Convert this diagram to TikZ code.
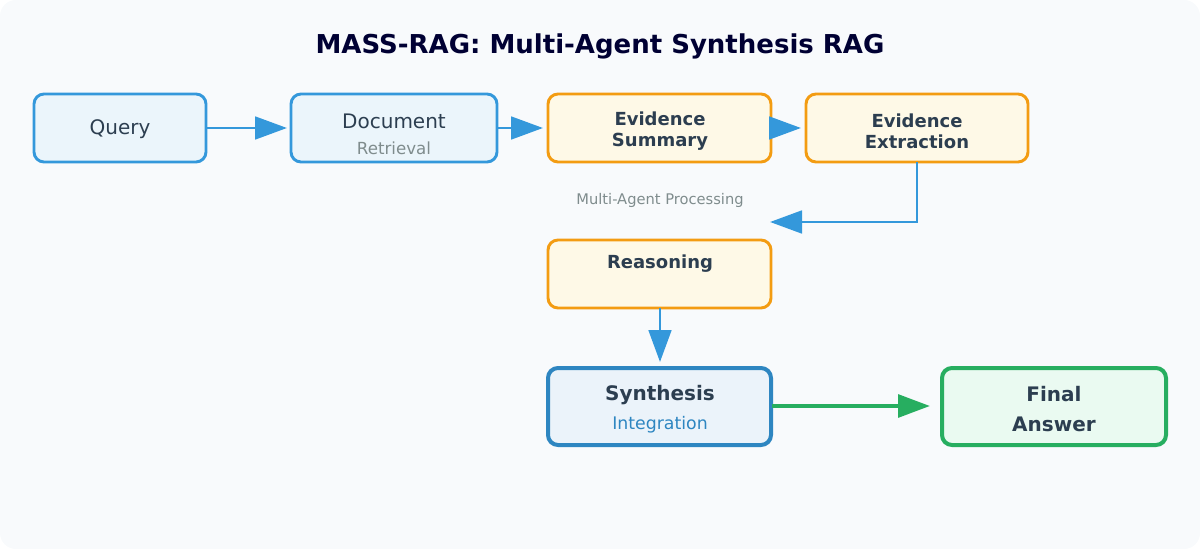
\documentclass[tikz,border=0pt]{standalone}
\usepackage{fontspec}
\setmainfont{DejaVu Sans}
\usetikzlibrary{arrows.meta}
\definecolor{bg}{HTML}{F8FAFC}
\definecolor{blueS}{HTML}{3498DB}
\definecolor{blueF}{HTML}{EBF5FB}
\definecolor{orS}{HTML}{F39C12}
\definecolor{orF}{HTML}{FEF9E7}
\definecolor{synS}{HTML}{2E86C1}
\definecolor{synF}{HTML}{EBF3FA}
\definecolor{grS}{HTML}{27AE60}
\definecolor{grF}{HTML}{EAFAF1}
\definecolor{txt}{HTML}{2C3E50}
\definecolor{gr}{HTML}{7F8C8D}
\begin{document}
\begin{tikzpicture}[x=0.75pt,y=-0.75pt,
 box/.style={draw,line width=2.2pt,rounded corners=7.5pt,text=txt},
 blue/.style={box,draw=blueS,fill=blueF},
 orange/.style={box,draw=orS,fill=orF},
 lbl/.style={text=txt,font=\fontsize{15}{18}\selectfont},
 blbl/.style={text=txt,font=\bfseries\fontsize{13.5}{16}\selectfont,align=center},
 arr/.style={draw=blueS,line width=2.2pt,-{Triangle[length=24pt,width=17pt]}},
]
\useasboundingbox (0,0) rectangle (1200,549);
\fill[bg,rounded corners=12pt] (0,0) rectangle (1200,549);
\node[text=black!80!blue,font=\bfseries\fontsize{19.5}{23}\selectfont] (title) at (600,46) {MASS-RAG: Multi-Agent Synthesis RAG};
\draw[blue] (34,94) rectangle (206,162); \node[lbl] (q) at (120,129) {Query};
\coordinate (qr) at (206,128);
\draw[blue] (291,94) rectangle (497,162);
\node[lbl] (d) at (394,121) {Document};
\node[text=gr,font=\fontsize{12.5}{15}\selectfont] (dr) at (394,148) {Retrieval};
\draw[orange] (548,94) rectangle (771,162);
\node[blbl] (es) at (660,131) {Evidence\\Summary};
\draw[orange] (806,94) rectangle (1028,162);
\node[blbl] (ee) at (917,131) {Evidence\\Extraction};
\node[text=gr,font=\fontsize{11}{13}\selectfont] (map) at (660,200) {Multi-Agent Processing};
\draw[orange] (548,240) rectangle (771,308);
\node[blbl] (r) at (660,264) {Reasoning};
\draw[box,draw=synS,fill=synF,line width=3pt] (548,368) rectangle (771,445);
\node[text=txt,font=\bfseries\fontsize{15}{18}\selectfont] (s) at (660,395) {Synthesis};
\node[text=synS,font=\fontsize{13}{15}\selectfont] (si) at (660,425) {Integration};
\draw[box,draw=grS,fill=grF,line width=3pt] (942,368) rectangle (1166,445);
\node[text=txt,font=\bfseries\fontsize{15}{22}\selectfont,align=center] (f) at (1054,409) {Final\\Answer};
\coordinate (a1) at (206,128); \coordinate (b1) at (287,128);
\coordinate (a2) at (497,128); \coordinate (b2) at (543,128);
\coordinate (a3) at (771,128); \coordinate (b3) at (801,128);
\coordinate (a4) at (917,162); \coordinate (m4) at (917,222); \coordinate (b4) at (770,222);
\coordinate (a5) at (660,308); \coordinate (b5) at (660,362);
\coordinate (a6) at (772,406); \coordinate (b6) at (930,406);
\draw[arr] (a1) -- (b1);
\draw[arr] (a2) -- (b2);
\draw[arr] (a3) -- (b3);
\draw[arr] (a4) -- (m4) -- (b4);
\draw[arr] (a5) -- (b5);
\draw[arr,draw=grS,line width=3pt] (a6) -- (b6);
\end{tikzpicture}
\end{document}
